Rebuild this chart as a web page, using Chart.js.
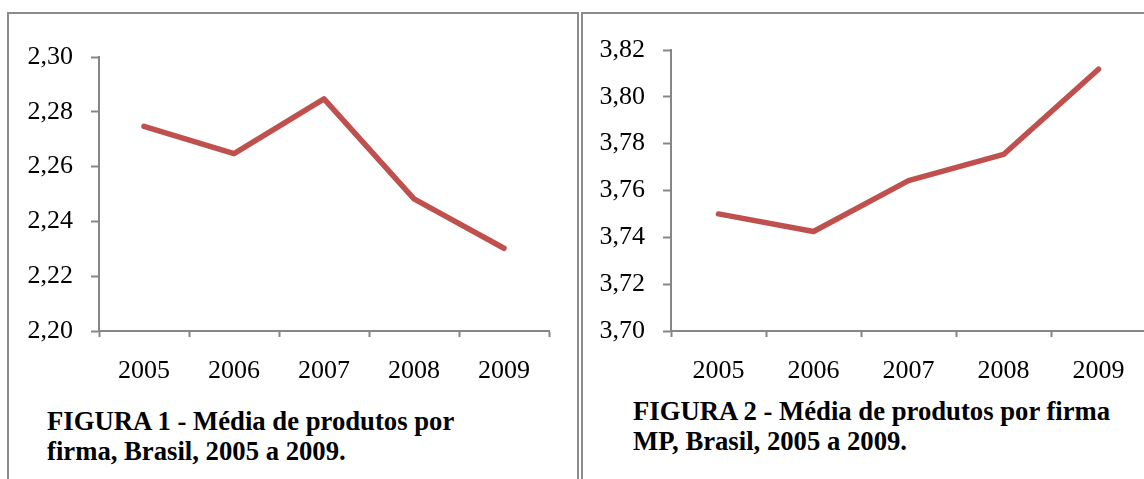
<!DOCTYPE html>
<html>
<head>
<meta charset="utf-8">
<script src="https://cdn.jsdelivr.net/npm/chart.js@4"></script>
<style>
  html, body { margin: 0; padding: 0; background: #fff; overflow: hidden; }
  body { width: 1144px; height: 479px; position: relative; }
  .panel { position: absolute; top: 12px; height: 480px; border: 2px solid #8c8c8c; border-bottom: none; box-sizing: border-box; }
  .wrap { position: absolute; }
  .cap { position: absolute; font-family: 'Liberation Serif', 'Times New Roman', serif; font-weight: bold; font-size: 26.7px; line-height: 30px; color: #000; white-space: nowrap; }
</style>
</head>
<body>
<div class="panel" style="left:7px; width:572px;"></div>
<div class="panel" style="left:581px; width:580px;"></div>

<div class="wrap" style="left:10px; top:14px; width:566px; height:377px;"><canvas id="c1"></canvas></div>
<div class="wrap" style="left:584px; top:14px; width:566px; height:377px;"><canvas id="c2"></canvas></div>

<div class="cap" style="left:47px; top:406px;">FIGURA 1 - Média de produtos por<br>firma, Brasil, 2005 a 2009.</div>
<div class="cap" style="left:633px; top:396px;">FIGURA 2 - Média de produtos por firma<br>MP, Brasil, 2005 a 2009.</div>

<script>
const years = ['2005', '2006', '2007', '2008', '2009'];
const mediaBrasil = [2.2747, 2.2647, 2.2847, 2.2482, 2.2302];
const mediaMP = [3.7500, 3.7425, 3.7642, 3.7754, 3.8118];
const ticks1 = [2.20, 2.30, 0.02];  // min, max, step
const ticks2 = [3.70, 3.82, 0.02];

const axisColor = '#868686';
const lineColor = '#C0504D';
const fontFam = "'Liberation Serif', 'Times New Roman', serif";

function makeChart(id, values, yt, yWidth, padTop, padRight) {
  const ctx = document.getElementById(id).getContext('2d');
  return new Chart(ctx, {
    type: 'line',
    data: {
      labels: years,
      datasets: [{
        data: values,
        borderColor: lineColor,
        borderWidth: 5.5,
        borderCapStyle: 'round',
        borderJoinStyle: 'round',
        pointRadius: 0,
        tension: 0,
        fill: false
      }]
    },
    options: {
      responsive: true,
      maintainAspectRatio: false,
      animation: false,
      devicePixelRatio: 1,
      plugins: { legend: { display: false }, tooltip: { enabled: false } },
      layout: { padding: { top: padTop, right: padRight, left: 0, bottom: 0 } },
      scales: {
        x: {
          offset: true,
          grid: { offset: true, drawOnChartArea: false, color: axisColor, tickLength: 6, tickWidth: 2 },
          border: { color: axisColor, width: 2 },
          ticks: { color: '#000', font: { family: fontFam, size: 26 }, padding: 19, maxRotation: 0 },
          afterFit: s => { s.height = 60; }
        },
        y: {
          min: yt[0],
          max: yt[1],
          grid: { drawOnChartArea: false, color: axisColor, tickLength: 8, tickWidth: 2 },
          border: { color: axisColor, width: 2 },
          ticks: {
            stepSize: yt[2],
            color: '#000',
            font: { family: fontFam, size: 26 },
            padding: 18,
            callback: v => v.toFixed(2).replace('.', ',')
          },
          afterFit: s => { s.width = yWidth; }
        }
      }
    }
  });
}

makeChart('c1', mediaBrasil, ticks1, 89, 43, 27);
makeChart('c2', mediaMP, ticks2, 87, 36, 4);
</script>
</body>
</html>
